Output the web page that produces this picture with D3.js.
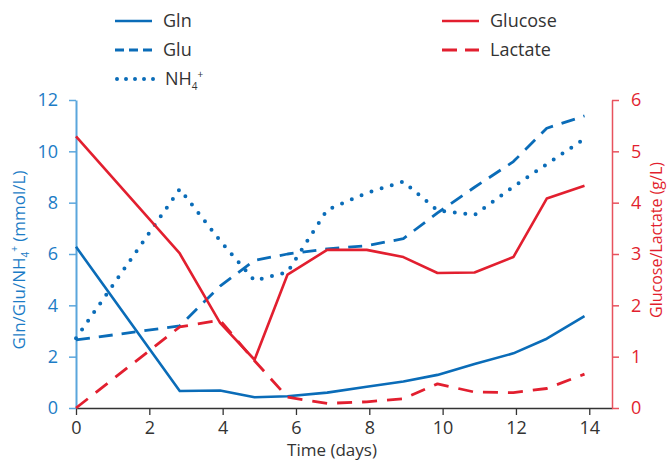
<!DOCTYPE html>
<html>
<head>
<meta charset="utf-8">
<script src="https://cdn.jsdelivr.net/npm/d3@7"></script>
<style>
  body { margin: 0; background: #fff; }
  svg text { font-family: "Open Sans", sans-serif; }
</style>
</head>
<body>
<svg id="chart" width="668" height="462"></svg>
<script>
// sample days (x values)
const days = [0, 2.83, 3.93, 4.87, 5.77, 6.85, 7.93, 8.93, 9.86, 10.87, 11.93, 12.84, 13.87];

// left axis series (mmol/L)
const gln = [6.28, 0.66, 0.68, 0.42, 0.46, 0.60, 0.83, 1.03, 1.29, 1.71, 2.13, 2.70, 3.58];
const glu = [2.65, 3.2, 4.75, 5.75, 6.0, 6.2, 6.32, 6.6, 7.6, 8.6, 9.6, 10.9, 11.38];
const nh4 = [2.72, 8.53, 6.52, 4.96, 5.3, 7.72, 8.38, 8.82, 7.7, 7.52, 8.62, 9.5, 10.49];

// right axis series (g/L)
const glucose = [5.29, 3.01, 1.66, 0.94, 2.60, 3.08, 3.08, 2.94, 2.63, 2.64, 2.94, 4.08, 4.33];
const lactate = [0, 1.58, 1.71, 0.92, 0.21, 0.09, 0.12, 0.18, 0.47, 0.31, 0.30, 0.38, 0.66];

const xTicks = [0, 2, 4, 6, 8, 10, 12, 14];
const leftTicks = [0, 2, 4, 6, 8, 10, 12];
const rightTicks = [0, 1, 2, 3, 4, 5, 6];

const BLUE = '#0a6cb8';
const RED = '#e21f2f';
const AXIS_BLUE = '#5aa6dc';
const LABEL_BLUE = '#1c7cc6';
const AXIS_RED = '#e8525d';

const svg = d3.select('#chart');

const x = d3.scaleLinear().domain([0, 14.62]).range([76, 612]);
const yL = d3.scaleLinear().domain([0, 12]).range([408, 100]);
const yR = d3.scaleLinear().domain([0, 6]).range([408, 100]);

// x axis
const gx = svg.append('g')
  .attr('transform', 'translate(0,408)')
  .call(d3.axisBottom(x).tickValues(xTicks).tickSize(7).tickSizeOuter(0).tickPadding(6));
gx.select('.domain').attr('stroke', '#333').attr('stroke-width', 1.3);
gx.selectAll('.tick line').attr('stroke', '#333').attr('stroke-width', 1.3);
gx.selectAll('.tick text').attr('fill', '#333').style('font-size', '18px');

// left axis
const gl = svg.append('g')
  .attr('transform', 'translate(76,0)')
  .call(d3.axisLeft(yL).tickValues(leftTicks).tickSize(7).tickSizeOuter(0).tickPadding(11));
gl.select('.domain').attr('stroke', AXIS_BLUE).attr('stroke-width', 2);
gl.selectAll('.tick line').attr('stroke', AXIS_BLUE).attr('stroke-width', 1.5);
gl.selectAll('.tick text').attr('fill', LABEL_BLUE).style('font-size', '18px');

// right axis
const gr = svg.append('g')
  .attr('transform', 'translate(612,0)')
  .call(d3.axisRight(yR).tickValues(rightTicks).tickFormat(d3.format('d'))
    .tickSize(7).tickSizeOuter(0).tickPadding(12));
gr.select('.domain').attr('stroke', AXIS_RED).attr('stroke-width', 1.5);
gr.selectAll('.tick line').attr('stroke', AXIS_RED).attr('stroke-width', 1.5);
gr.selectAll('.tick text').attr('fill', RED).style('font-size', '18px');

// axis titles
svg.append('text')
  .attr('x', 332).attr('y', 456)
  .attr('text-anchor', 'middle')
  .attr('fill', '#333').style('font-size', '17px')
  .text('Time (days)');

const lt = svg.append('text')
  .attr('transform', 'translate(25,260) rotate(-90)')
  .attr('text-anchor', 'middle')
  .attr('fill', LABEL_BLUE).style('font-size', '17px');
lt.append('tspan').text('Gln/Glu/NH');
lt.append('tspan').attr('dy', 4).style('font-size', '10px').text('4');
lt.append('tspan').attr('dy', -11).style('font-size', '10px').text('+');
lt.append('tspan').attr('dy', 7).text(' (mmol/L)');

svg.append('text')
  .attr('transform', 'translate(662,240) rotate(-90)')
  .attr('text-anchor', 'middle')
  .attr('fill', RED).style('font-size', '16px')
  .text('Glucose/Lactate (g/L)');

// series
const series = [
  { name: 'Gln', vals: gln, y: yL, color: BLUE, dash: null, width: 2.6 },
  { name: 'Glu', vals: glu, y: yL, color: BLUE, dash: '14,9', width: 2.8 },
  { name: 'NH4', vals: nh4, y: yL, color: BLUE, dash: '0,10.6', width: 4, cap: 'round' },
  { name: 'Glucose', vals: glucose, y: yR, color: RED, dash: null, width: 2.6 },
  { name: 'Lactate', vals: lactate, y: yR, color: RED, dash: '15,10', width: 2.8 }
];

series.forEach(s => {
  const line = d3.line().x((d, i) => x(days[i])).y(d => s.y(d));
  svg.append('path')
    .datum(s.vals)
    .attr('d', line)
    .attr('fill', 'none')
    .attr('stroke', s.color)
    .attr('stroke-width', s.width)
    .attr('stroke-dasharray', s.dash)
    .attr('stroke-linecap', s.cap || 'butt')
    .attr('stroke-linejoin', 'round');
});

// legend
const legend = [
  { label: 'Gln', color: BLUE, dash: null, w: 2.6, lx: 115, ly: 21 },
  { label: 'Glu', color: BLUE, dash: '9,5', w: 2.8, lx: 115, ly: 50 },
  { label: 'NH4', color: BLUE, dash: '0,9', w: 4, cap: 'round', lx: 117, ly: 79 },
  { label: 'Glucose', color: RED, dash: null, w: 2.6, lx: 442, ly: 21 },
  { label: 'Lactate', color: RED, dash: '15,8', w: 2.8, lx: 442, ly: 50 }
];

legend.forEach(l => {
  svg.append('line')
    .attr('x1', l.lx).attr('x2', l.lx + 37)
    .attr('y1', l.ly).attr('y2', l.ly)
    .attr('stroke', l.color).attr('stroke-width', l.w)
    .attr('stroke-dasharray', l.dash)
    .attr('stroke-linecap', l.cap || 'butt');
  const t = svg.append('text')
    .attr('x', l.lx + 48).attr('y', l.ly + 6)
    .attr('fill', '#333').style('font-size', '18px');
  if (l.label === 'NH4') {
    t.append('tspan').text('NH');
    t.append('tspan').attr('dy', 5).style('font-size', '10px').text('4');
    t.append('tspan').attr('dy', -12).style('font-size', '10px').text('+');
  } else {
    t.text(l.label);
  }
});
</script>
</body>
</html>
